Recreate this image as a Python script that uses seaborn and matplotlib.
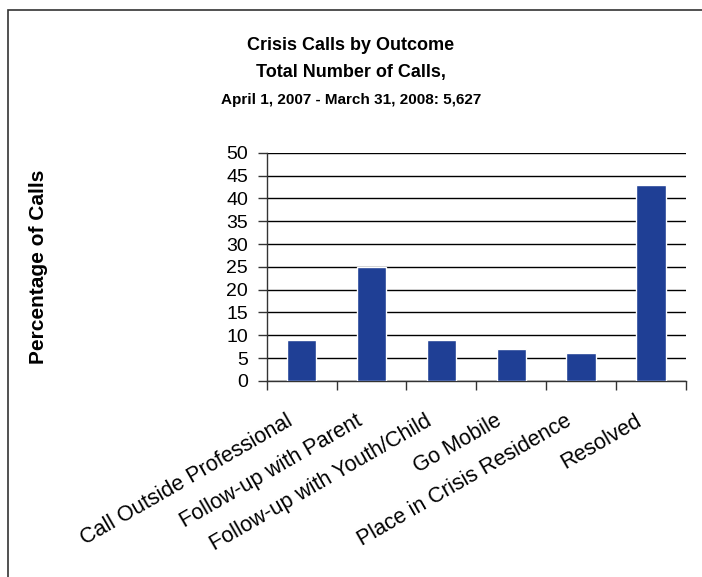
import numpy as np
import pandas as pd
import seaborn as sns
import matplotlib.pyplot as plt
from matplotlib.patches import Rectangle
from matplotlib.transforms import ScaledTranslation

outcomes = ["Call Outside Professional", "Follow-up with Parent", "Follow-up with Youth/Child",
            "Go Mobile", "Place in Crisis Residence", "Resolved"]
percentages = [9, 25, 9, 7, 6, 43]
y_ticks = list(range(0, 55, 5))

df = pd.DataFrame({"Outcome": outcomes, "Percentage": percentages})

sns.set_theme(style="white")
plt.rcParams["font.family"] = ["Liberation Sans", "DejaVu Sans"]
plt.rcParams["text.color"] = "black"
plt.rcParams["xtick.color"] = "black"
plt.rcParams["ytick.color"] = "black"

fig = plt.figure(figsize=(7.02, 5.77), dpi=100)
ax = fig.add_axes([0.380, 0.340, 0.597, 0.395])

sns.barplot(data=df, x="Outcome", y="Percentage", color="#1F3F95",
            saturation=1, width=0.42, ax=ax, zorder=3)

ax.set_ylim(0, 50)
ax.set_xlim(-0.5, len(outcomes) - 0.5)
ax.set_yticks(y_ticks)
ax.set_yticklabels([str(t) for t in y_ticks], fontsize=14)
ax.yaxis.grid(True, color="black", linewidth=1)
ax.set_axisbelow(True)
ax.tick_params(axis="y", left=True, length=6.5, width=1, color="#333333", pad=7)

ax.set_xticks(range(len(outcomes)))
ax.set_xticklabels(outcomes, rotation=30, ha="right", va="center",
                   rotation_mode="anchor", fontsize=15.5)
ax.tick_params(axis="x", which="major", bottom=False, pad=22)
shift = ScaledTranslation(-11 / 100, 0, fig.dpi_scale_trans)
for lbl in ax.get_xticklabels():
    lbl.set_transform(lbl.get_transform() + shift)
ax.set_xticks(np.arange(-0.5, len(outcomes), 1.0), minor=True)
ax.tick_params(axis="x", which="minor", bottom=True, length=6.5, width=1, color="#333333")

for side in ["top", "right"]:
    ax.spines[side].set_visible(False)
for side in ["left", "bottom"]:
    ax.spines[side].set_color("#333333")
    ax.spines[side].set_linewidth(1)

ax.set_xlabel("")
ax.set_ylabel("")
fig.text(0.055, 0.537, "Percentage of Calls", rotation=90, ha="center", va="center",
         fontsize=15, fontweight="bold")

fig.text(0.5, 1 - 45 / 577, "Crisis Calls by Outcome", ha="center", va="center",
         fontsize=13, fontweight="bold")
fig.text(0.5, 1 - 73 / 577, "Total Number of Calls,", ha="center", va="center",
         fontsize=13, fontweight="bold")
fig.text(0.5, 1 - 100 / 577, "April 1, 2007 - March 31, 2008: 5,627", ha="center", va="center",
         fontsize=11, fontweight="bold")

fig.patches.append(Rectangle((8 / 702, -0.1), 1.2, 1 - 10 / 577 + 0.1,
                             transform=fig.transFigure, fill=False,
                             edgecolor="#333333", linewidth=1.2))

fig.savefig("out.png", dpi=100)
